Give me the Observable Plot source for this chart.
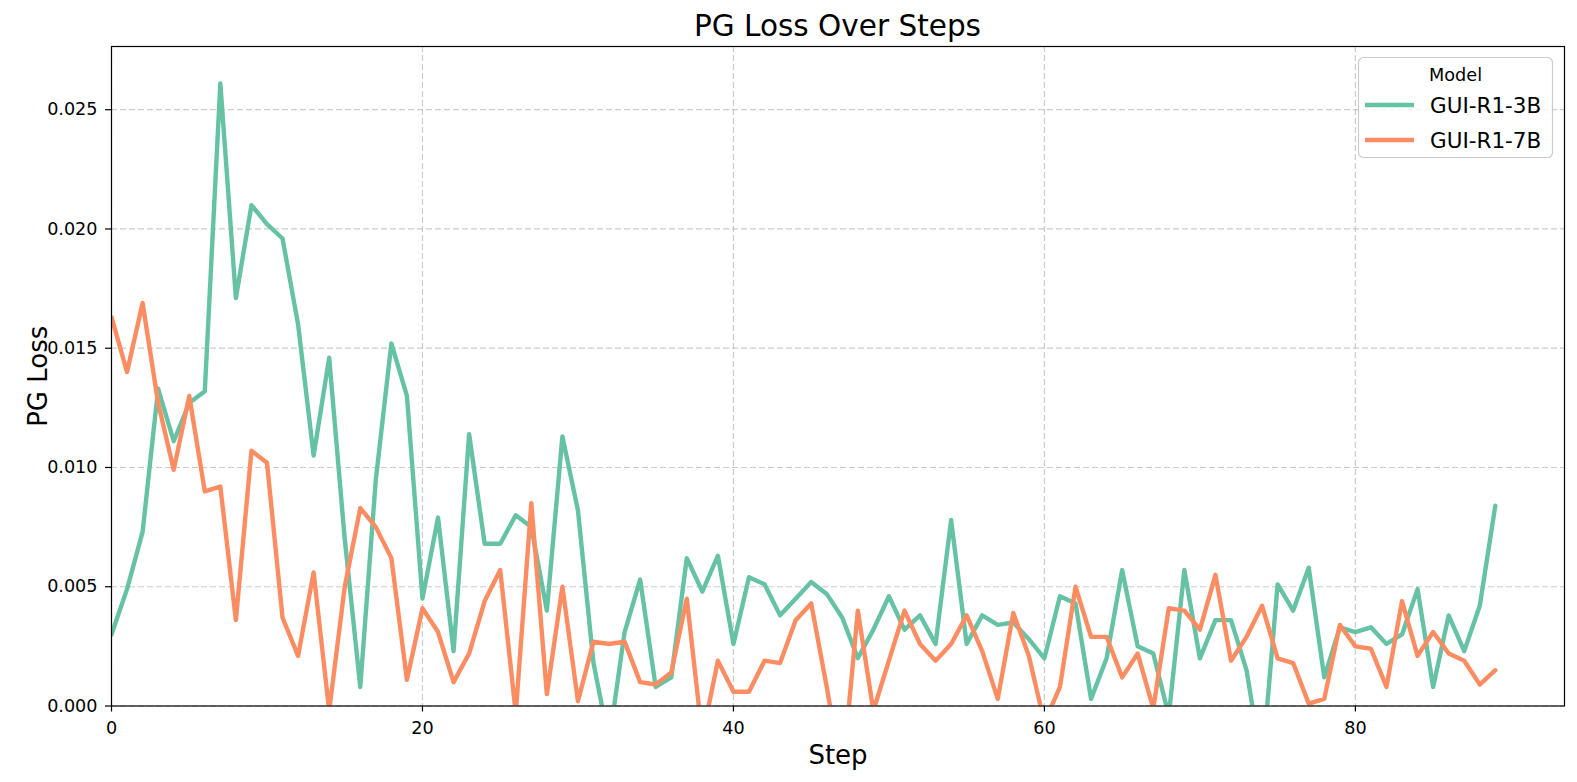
<!DOCTYPE html>
<html><head><meta charset="utf-8">
<script src="https://cdn.jsdelivr.net/npm/d3@7"></script>
<script src="https://cdn.jsdelivr.net/npm/@observablehq/plot@0.6"></script>
<style>
body{margin:0;background:#fff;font-family:"DejaVu Sans",sans-serif;}
#wrap{position:relative;width:1577px;height:782px;overflow:hidden;}
#title{height:45px;margin-left:111px;width:1453px;text-align:center;font-size:29.5px;line-height:45px;padding-top:4px;box-sizing:border-box;color:#000;white-space:nowrap;}
#legend{position:absolute;left:1357px;top:56px;}
#chart svg{display:block;}
</style></head>
<body>
<div id="wrap">
<div id="title">PG Loss Over Steps</div>
<div id="chart"></div>
<svg id="legend" width="198" height="104"></svg>
</div>
<script>
const steps = [0,1,2,3,4,5,6,7,8,9,10,11,12,13,14,15,16,17,18,19,20,21,22,23,24,25,26,27,28,29,30,31,32,33,34,35,36,37,38,39,40,41,42,43,44,45,46,47,48,49,50,51,52,53,54,55,56,57,58,59,60,61,62,63,64,65,66,67,68,69,70,71,72,73,74,75,76,77,78,79,80,81,82,83,84,85,86,87,88,89];
const loss3B = [0.0030,0.0049,0.0073,0.0133,0.0111,0.0127,0.0132,0.0261,0.0171,0.0210,
0.0202,0.0196,0.0160,0.0105,0.0146,0.0070,0.0008,0.0095,0.0152,0.0130,
0.0045,0.0079,0.0023,0.0114,0.0068,0.0068,0.0080,0.0075,0.0040,0.0113,
0.0082,0.0018,-0.0015,0.0031,0.0053,0.0008,0.0012,0.0062,0.0048,0.0063,
0.0026,0.0054,0.0051,0.0038,0.0045,0.0052,0.0047,0.0037,0.0020,0.0032,
0.0046,0.0032,0.0038,0.0026,0.0078,0.0026,0.0038,0.0034,0.0035,0.0028,
0.0020,0.0046,0.0043,0.0003,0.0020,0.0057,0.0025,0.0022,-0.0004,0.0057,
0.0020,0.0036,0.0036,0.0015,-0.0025,0.0051,0.0040,0.0058,0.0012,0.0033,
0.0031,0.0033,0.0026,0.0030,0.0049,0.0008,0.0038,0.0023,0.0042,0.0084];
const loss7B = [0.0163,0.0140,0.0169,0.0127,0.0099,0.0130,0.0090,0.0092,0.0036,0.0107,
0.0102,0.0037,0.0021,0.0056,-0.0002,0.0050,0.0083,0.0075,0.0062,0.0011,
0.0041,0.0031,0.0010,0.0022,0.0044,0.0057,-0.0003,0.0085,0.0005,0.0050,
0.0002,0.0027,0.0026,0.0027,0.0010,0.0009,0.0014,0.0045,-0.0013,0.0019,
0.0006,0.0006,0.0019,0.0018,0.0036,0.0043,0.0008,-0.0030,0.0040,-0.0002,
0.0019,0.0040,0.0026,0.0019,0.0026,0.0038,0.0023,0.0003,0.0039,0.0021,
-0.0007,0.0008,0.0050,0.0029,0.0029,0.0012,0.0022,-0.0001,0.0041,0.0040,
0.0032,0.0055,0.0019,0.0029,0.0042,0.0020,0.0018,0.0001,0.0003,0.0034,
0.0025,0.0024,0.0008,0.0044,0.0021,0.0031,0.0022,0.0019,0.0009,0.0015];
const models = ["GUI-R1-3B","GUI-R1-7B"];
const colors = ["#66c2a5","#fc8d62"];
const xTicks = [0,20,40,60,80];
const yTicks = [0,0.005,0.010,0.015,0.020,0.025];

const rows = [];
const series = [loss3B, loss7B];
models.forEach((m, k) => steps.forEach((s, i) => rows.push({step: s, loss: series[k][i], model: m})));

const chart = Plot.plot({
  width: 1577, height: 737,
  marginLeft: 111, marginRight: 13, marginTop: 1, marginBottom: 76.5,
  x: {domain: [0, 93.45]},
  y: {domain: [0, 0.02765]},
  color: {domain: models, range: colors},
  style: {fontFamily: "DejaVu Sans", fontSize: "17.6px", color: "#000", background: "#fff", overflow: "visible"},
  marks: [
    Plot.gridX(xTicks, {stroke: "#b0b0b0", strokeOpacity: 0.65, strokeWidth: 1.2, strokeDasharray: "6,3"}),
    Plot.gridY(yTicks, {stroke: "#b0b0b0", strokeOpacity: 0.65, strokeWidth: 1.2, strokeDasharray: "6,3"}),
    Plot.lineY(rows, {x: "step", y: "loss", stroke: "model", strokeWidth: 4.4, clip: true}),
    Plot.frame({stroke: "#000", strokeWidth: 1.2}),
    Plot.axisX(xTicks, {tickSize: 6, tickPadding: 9, strokeWidth: 1.2, label: "Step", labelAnchor: "center", labelOffset: 58, labelArrow: "none"}),
    Plot.axisY(yTicks, {tickFormat: d3.format(".3f"), tickSize: 6, tickPadding: 8, strokeWidth: 1.2, label: "PG Loss", labelAnchor: "center", labelOffset: 83, labelArrow: "none"})
  ]
});
document.getElementById("chart").appendChild(chart);
d3.select(chart).selectAll('g[aria-label="x-axis label"], g[aria-label="y-axis label"]').attr("font-size", "26px");

const lg = d3.select("#legend");
lg.append("rect").attr("x", 1.5).attr("y", 1.5).attr("width", 194).attr("height", 100).attr("rx", 5)
  .attr("fill", "#fff").attr("fill-opacity", 0.8).attr("stroke", "#cccccc").attr("stroke-width", 1.2);
lg.append("text").attr("x", 98.5).attr("y", 24.7).attr("text-anchor", "middle")
  .attr("font-family", "DejaVu Sans").attr("font-size", "17.7px").text("Model");
models.forEach((m, k) => {
  const y = 49 + k * 35;
  lg.append("line").attr("x1", 8).attr("x2", 57).attr("y1", y).attr("y2", y)
    .attr("stroke", colors[k]).attr("stroke-width", 4.4);
  lg.append("text").attr("x", 73).attr("y", y + 7.8)
    .attr("font-family", "DejaVu Sans").attr("font-size", "21.5px").text(m);
});
</script>
</body></html>
